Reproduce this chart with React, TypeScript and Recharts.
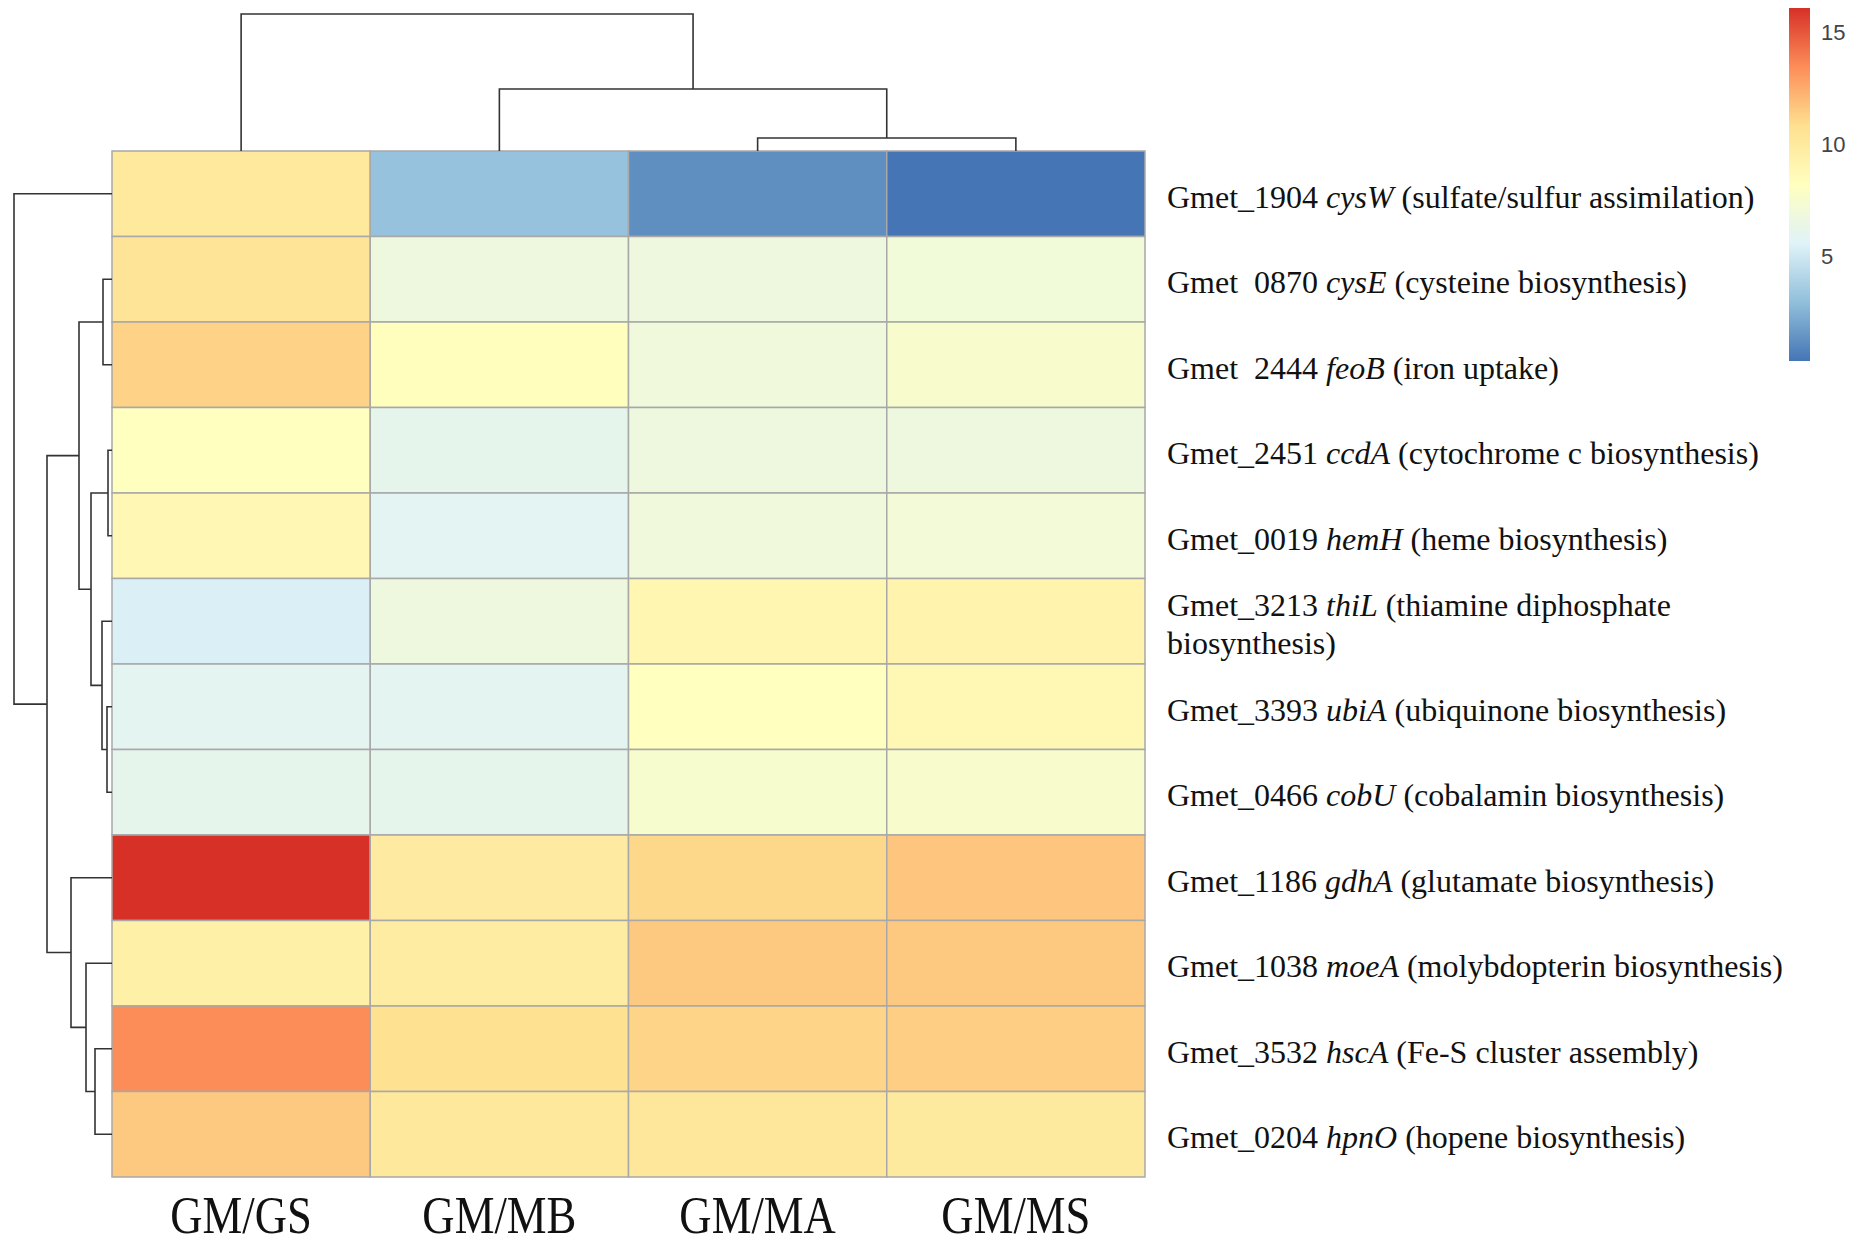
import React from 'react';
import { ScatterChart, Scatter, XAxis, YAxis, ReferenceArea, BarChart, Bar } from 'recharts';

// columns (samples) in heatmap order
const samples = ['GM/GS', 'GM/MB', 'GM/MA', 'GM/MS'];

// rows, top to bottom
const geneIds = [
    'Gmet_1904', 'Gmet\u00a0\u00a00870', 'Gmet\u00a0\u00a02444', 'Gmet_2451', 'Gmet_0019', 'Gmet_3213',
    'Gmet_3393', 'Gmet_0466', 'Gmet_1186', 'Gmet_1038', 'Gmet_3532', 'Gmet_0204',
];
const geneSymbols = ['cysW', 'cysE', 'feoB', 'ccdA', 'hemH', 'thiL', 'ubiA', 'cobU', 'gdhA', 'moeA', 'hscA', 'hpnO'];
const geneFunctions = [
    '(sulfate/sulfur assimilation)',
    '(cysteine biosynthesis)',
    '(iron uptake)',
    '(cytochrome c biosynthesis)',
    '(heme biosynthesis)',
    '(thiamine diphosphate biosynthesis)',
    '(ubiquinone biosynthesis)',
    '(cobalamin biosynthesis)',
    '(glutamate biosynthesis)',
    '(molybdopterin biosynthesis)',
    '(Fe-S cluster assembly)',
    '(hopene biosynthesis)',
];

// values per column, same row order as above
const gsValues = [10.1, 10.5, 11.25, 8.2, 8.9, 5.4, 5.9, 6.1, 16.1, 9.5, 13.5, 11.55];
const mbValues = [3.1, 6.7, 8.3, 6.1, 5.8, 6.7, 5.9, 6.1, 9.9, 9.8, 10.7, 10.15];
const maValues = [1.2, 6.7, 6.9, 6.7, 6.9, 9.0, 8.2, 7.5, 11.1, 11.55, 11.2, 10.3];
const msValues = [0.3, 7.0, 7.6, 6.7, 7.1, 9.2, 8.8, 7.6, 11.7, 11.6, 11.4, 10.0];

const colorbarTicks = [5, 10, 15];

// dendrograms: leaves are row/column indices, h = merge height
type TreeNode = number | { h: number; l: TreeNode; r: TreeNode };
const colTree: TreeNode = { h: 137, l: 0, r: { h: 62, l: 1, r: { h: 13, l: 2, r: 3 } } };
const rowTree: TreeNode = {
    h: 98,
    l: 0,
    r: {
        h: 65,
        l: {
            h: 33,
            l: { h: 9, l: 1, r: 2 },
            r: { h: 21, l: { h: 4, l: 3, r: 4 }, r: { h: 10, l: 5, r: { h: 5, l: 6, r: 7 } } },
        },
        r: { h: 41, l: 8, r: { h: 26, l: 9, r: { h: 17, l: 10, r: 11 } } },
    },
};

const columns = [gsValues, mbValues, maValues, msValues];
const allValues = columns.flat();
const vMin = Math.min(...allValues);
const vMax = Math.max(...allValues);

const palette = ['#4575B4', '#91BFDB', '#E0F3F8', '#FFFFBF', '#FEE090', '#FC8D59', '#D73027'];

const hexToRgb = (h: string) => [1, 3, 5].map((i) => parseInt(h.slice(i, i + 2), 16));
const colorFor = (v: number) => {
    const t = Math.max(0, Math.min(1, (v - vMin) / (vMax - vMin))) * (palette.length - 1);
    const i = Math.min(palette.length - 2, Math.floor(t));
    const f = t - i;
    const a = hexToRgb(palette[i]);
    const b = hexToRgb(palette[i + 1]);
    const c = a.map((x, k) => Math.round(x + (b[k] - x) * f));
    return `rgb(${c[0]},${c[1]},${c[2]})`;
};

const cells = columns.flatMap((vals, c) =>
    vals.map((v, r) => ({ x: c + 0.5, y: r + 0.5, c, r, v, fill: colorFor(v) })),
);

type Pt = { p: number; h: number };
const buildLinks = (node: TreeNode, out: Pt[][]): Pt => {
    if (typeof node === 'number') return { p: node + 0.5, h: 0 };
    const a = buildLinks(node.l, out);
    const b = buildLinks(node.r, out);
    out.push([a, { p: a.p, h: node.h }, { p: b.p, h: node.h }, b]);
    return { p: (a.p + b.p) / 2, h: node.h };
};
const colLinks: Pt[][] = [];
buildLinks(colTree, colLinks);
const rowLinks: Pt[][] = [];
buildLinks(rowTree, rowLinks);

const colorbarData = [{ name: 'scale', range: [vMin, vMax] }];

const SERIF = "'Liberation Serif', 'Times New Roman', serif";
const SANS = "'Liberation Sans', Arial, sans-serif";
const LINE = '#333';
const NoDot = () => <g />;

const RowTick = (props: any) => {
    const { x, payload } = props;
    const y = props.y + 3;
    const i = Math.round(payload.value - 0.5);
    const fn = geneFunctions[i];
    const full = `${geneIds[i]} ${geneSymbols[i]} ${fn}`;
    const tx = x + 22;
    if (full.length > 46) {
        const k = fn.lastIndexOf(' ');
        return (
            <g fontFamily={SERIF} fontSize={32} fill="#111">
                <text x={tx} y={y - 19} dy="0.35em">
                    <tspan>{geneIds[i] + ' '}</tspan>
                    <tspan fontStyle="italic">{geneSymbols[i]}</tspan>
                    <tspan>{' ' + fn.slice(0, k)}</tspan>
                </text>
                <text x={tx} y={y + 19} dy="0.35em">{fn.slice(k + 1)}</text>
            </g>
        );
    }
    return (
        <text x={tx} y={y} dy="0.35em" fontFamily={SERIF} fontSize={32} fill="#111" style={{ whiteSpace: 'pre' }}>
            <tspan>{geneIds[i] + ' '}</tspan>
            <tspan fontStyle="italic">{geneSymbols[i]}</tspan>
            <tspan>{' ' + fn}</tspan>
        </text>
    );
};

const ColTick = (props: any) => {
    const { x, y, payload } = props;
    const i = Math.round(payload.value - 0.5);
    return (
        <text
            transform={`translate(${x},${y + 56}) scale(0.86,1)`}
            textAnchor="middle"
            fontFamily={SERIF}
            fontSize={52}
            fill="#111"
        >
            {samples[i]}
        </text>
    );
};

export default function App() {
    return (
        <div style={{ position: 'relative', width: 1855, height: 1246, background: '#fff', overflow: 'hidden' }}>
            <style>{'body{margin:0}'}</style>

            {/* heatmap with row/column labels */}
            <div style={{ position: 'absolute', left: 0, top: 0 }}>
                <ScatterChart width={1855} height={1246} margin={{ top: 151, left: 112, right: 0, bottom: 0 }}>
                    <XAxis
                        type="number"
                        dataKey="x"
                        domain={[0, 4]}
                        ticks={[0.5, 1.5, 2.5, 3.5]}
                        interval={0}
                        height={69}
                        axisLine={false}
                        tickLine={false}
                        tickSize={0}
                        tickMargin={0}
                        tick={<ColTick />}
                    />
                    <YAxis
                        type="number"
                        dataKey="y"
                        domain={[0, 12]}
                        reversed
                        orientation="right"
                        width={710}
                        ticks={geneIds.map((_, i) => i + 0.5)}
                        interval={0}
                        axisLine={false}
                        tickLine={false}
                        tickSize={0}
                        tickMargin={0}
                        tick={<RowTick />}
                    />
                    {cells.map((d) => (
                        <ReferenceArea
                            key={`${d.c}-${d.r}`}
                            x1={d.c}
                            x2={d.c + 1}
                            y1={d.r}
                            y2={d.r + 1}
                            fill={d.fill}
                            fillOpacity={1}
                            stroke="#a8a8a8"
                            strokeWidth={1.5}
                        />
                    ))}
                    <Scatter data={cells} shape={NoDot} isAnimationActive={false} />
                </ScatterChart>
            </div>

            {/* column dendrogram */}
            <div style={{ position: 'absolute', left: 0, top: 0 }}>
                <ScatterChart width={1160} height={160} margin={{ top: 14, left: 112, right: 15, bottom: 9 }}>
                    <XAxis type="number" dataKey="p" domain={[0, 4]} hide />
                    <YAxis type="number" dataKey="h" domain={[0, 137]} hide />
                    {colLinks.map((pts, i) => (
                        <Scatter
                            key={i}
                            data={pts}
                            line={{ stroke: LINE, strokeWidth: 1.6 }}
                            shape={NoDot}
                            isAnimationActive={false}
                        />
                    ))}
                </ScatterChart>
            </div>

            {/* row dendrogram */}
            <div style={{ position: 'absolute', left: 0, top: 0 }}>
                <ScatterChart width={120} height={1246} margin={{ top: 151, left: 14, right: 8, bottom: 69 }}>
                    <XAxis type="number" dataKey="h" domain={[0, 98]} reversed hide />
                    <YAxis type="number" dataKey="p" domain={[0, 12]} reversed hide />
                    {rowLinks.map((pts, i) => (
                        <Scatter
                            key={i}
                            data={pts}
                            line={{ stroke: LINE, strokeWidth: 1.6 }}
                            shape={NoDot}
                            isAnimationActive={false}
                        />
                    ))}
                </ScatterChart>
            </div>

            {/* colour key */}
            <div style={{ position: 'absolute', left: 1789, top: 0 }}>
                <BarChart
                    width={66}
                    height={370}
                    data={colorbarData}
                    margin={{ top: 8, bottom: 9, left: 0, right: 0 }}
                    barCategoryGap={0}
                >
                    <defs>
                        <linearGradient id="cbar" x1="0" y1="1" x2="0" y2="0">
                            {palette.map((c, i) => (
                                <stop key={c} offset={`${(i / (palette.length - 1)) * 100}%`} stopColor={c} />
                            ))}
                        </linearGradient>
                    </defs>
                    <XAxis dataKey="name" hide />
                    <YAxis
                        type="number"
                        domain={[vMin, vMax]}
                        orientation="right"
                        width={45}
                        ticks={colorbarTicks}
                        axisLine={false}
                        tickLine={false}
                        tickSize={0}
                        tickMargin={11}
                        tick={{ fill: '#444', fontSize: 22, fontFamily: SANS }}
                    />
                    <Bar dataKey="range" fill="url(#cbar)" isAnimationActive={false} />
                </BarChart>
            </div>
        </div>
    );
}
